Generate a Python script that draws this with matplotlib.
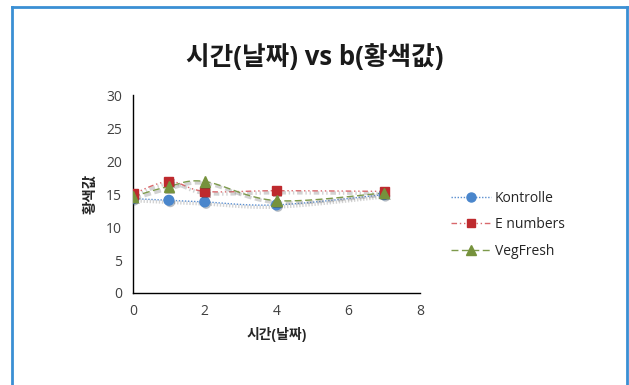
import numpy as np
import matplotlib
matplotlib.use("Agg")
import matplotlib.pyplot as plt
import matplotlib.patheffects as pe
from matplotlib.lines import Line2D

plt.rcParams['font.family'] = ['Open Sans', 'Noto Sans CJK KR', 'DejaVu Sans']

days = [0, 1, 2, 4, 7]
kontrolle = [14.3, 14.05, 13.8, 13.35, 14.9]
e_numbers = [15.0, 16.9, 15.4, 15.5, 15.4]
vegfresh = [14.6, 16.15, 16.9, 14.0, 15.15]

series_names = ["Kontrolle", "E numbers", "VegFresh"]
title = "시간(날짜) vs b(황색값)"
x_label = "시간(날짜)"
y_label = "황색값"


def smooth(xs, ys, n=30, t=0.5):
    """Catmull-Rom style smoothing through every point."""
    xs = np.asarray(xs, float)
    ys = np.asarray(ys, float)
    px = np.concatenate([[xs[0]], xs, [xs[-1]]])
    py = np.concatenate([[ys[0]], ys, [ys[-1]]])
    outx, outy = [], []
    for i in range(1, len(px) - 2):
        p0x, p1x, p2x, p3x = px[i - 1], px[i], px[i + 1], px[i + 2]
        p0y, p1y, p2y, p3y = py[i - 1], py[i], py[i + 1], py[i + 2]
        c1x = p1x + (p2x - p0x) * t / 3
        c1y = p1y + (p2y - p0y) * t / 3
        c2x = p2x - (p3x - p1x) * t / 3
        c2y = p2y - (p3y - p1y) * t / 3
        s = np.linspace(0, 1, n)
        bx = (1 - s) ** 3 * p1x + 3 * (1 - s) ** 2 * s * c1x + 3 * (1 - s) * s ** 2 * c2x + s ** 3 * p2x
        by = (1 - s) ** 3 * p1y + 3 * (1 - s) ** 2 * s * c1y + 3 * (1 - s) * s ** 2 * c2y + s ** 3 * p2y
        outx.extend(bx)
        outy.extend(by)
    return np.array(outx), np.array(outy)


fig = plt.figure(figsize=(6.29, 3.85), dpi=100)
fig.patch.set_facecolor("white")

W, H = 629, 385
ax = fig.add_axes([133 / W, 1 - 293 / H, (420 - 133) / W, (293 - 95) / H])

styles = [
    dict(color="#5b8fd0", ls=(0, (1, 1.2)), marker="o", mc="#4a86cc", ms=7),
    dict(color="#d9686c", ls=(0, (4, 2, 1, 2, 1, 2)), marker="s", mc="#be2a2e", ms=6.5),
    dict(color="#7d9a4c", ls=(0, (5, 2.5)), marker="^", mc="#76923c", ms=7.5),
]
shadow = [pe.SimpleLineShadow(offset=(1, -1.5), shadow_color="gray", alpha=0.35, linewidth=2.5), pe.Normal()]

for vals, st, name in zip([kontrolle, e_numbers, vegfresh], styles, series_names):
    sx, sy = smooth(days, vals)
    ax.plot(sx, sy, color=st["color"], ls=st["ls"], lw=1.0, path_effects=shadow, zorder=2)
    ax.plot(days, vals, ls="none", marker=st["marker"], ms=st["ms"], color=st["mc"],
            mec=st["mc"], zorder=3,
            path_effects=[pe.SimplePatchShadow(offset=(1, -1.5), alpha=0.3), pe.Normal()])

ax.set_xlim(0, 8)
ax.set_ylim(0, 30)
ax.set_xticks([0, 2, 4, 6, 8])
ax.set_yticks([0, 5, 10, 15, 20, 25, 30])
for s in ["top", "right"]:
    ax.spines[s].set_visible(False)
for s in ["left", "bottom"]:
    ax.spines[s].set_color("black")
    ax.spines[s].set_linewidth(1.0)
ax.tick_params(axis="both", length=0, labelsize=10, colors="#404040", pad=8)
ax.tick_params(axis="x", pad=8)

ax.set_xlabel(x_label, fontsize=10, fontweight="bold", color="#262626", labelpad=6)
ax.set_ylabel(y_label, fontsize=10.5, fontweight="bold", color="#262626", labelpad=6)

fig.text(315 / W, 1 - 58 / H, title, ha="center", va="center", fontsize=18.5,
         fontweight="bold", color="#1a1a1a")

handles = [
    Line2D([], [], color=st["color"], ls=st["ls"], lw=1.0, marker=st["marker"],
           mfc=st["mc"], mec=st["mc"], ms=st["ms"] - 0.5)
    for st in styles
]
fig.legend(handles, series_names, loc="upper left", bbox_to_anchor=(438 / W, 1 - 178 / H),
           frameon=False, fontsize=10, handlelength=2.9, handletextpad=0.3,
           labelspacing=0.85, labelcolor="#262626")

# blue chart frame
frame = "#3a8fd4"
fig.add_artist(Line2D([12 / W, 12 / W], [0, 1 - 7 / H], color=frame, lw=2, transform=fig.transFigure))
fig.add_artist(Line2D([12 / W, 627 / W], [1 - 7 / H, 1 - 7 / H], color=frame, lw=2, transform=fig.transFigure))
fig.add_artist(Line2D([627 / W, 627 / W], [0, 1 - 7 / H], color=frame, lw=2, transform=fig.transFigure))

fig.savefig("out.png", dpi=100, facecolor="white")
